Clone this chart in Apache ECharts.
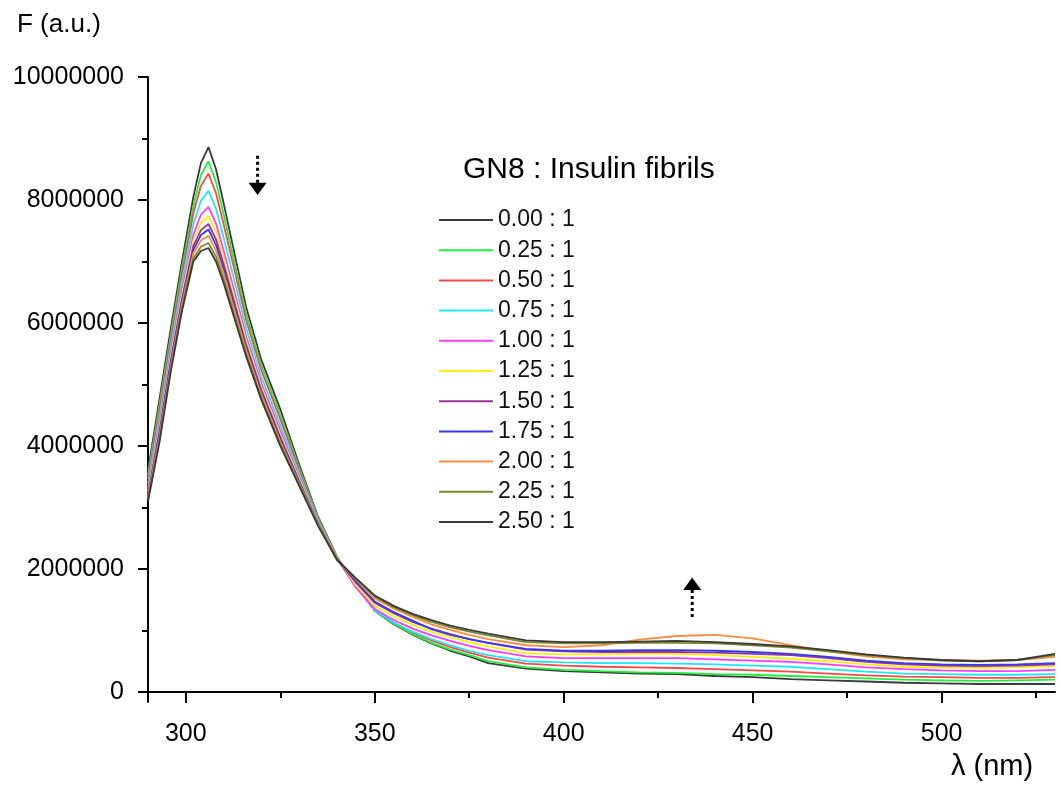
<!DOCTYPE html>
<html>
<head>
<meta charset="utf-8">
<script src="https://cdn.jsdelivr.net/npm/echarts@6/dist/echarts.min.js"></script>
<style>
html,body{margin:0;padding:0;background:#fff;}
#c{width:1061px;height:787px;}
</style>
</head>
<body>
<div id="c"></div>
<script>
// wavelength (nm)
const wavelengths = [290,293,296,299,302,304,306,308,310,313,316,320,325,330,335,340,345,350,355,360,365,370,375,380,390,400,410,420,430,440,450,460,470,480,490,500,510,520,530];
// fluorescence intensity, in units of 1e6 a.u.
const r000 = [3.60,4.75,5.90,7.00,8.05,8.60,8.86,8.50,7.95,7.10,6.25,5.40,4.60,3.70,2.85,2.20,1.72,1.32,1.10,0.93,0.79,0.67,0.58,0.47,0.38,0.34,0.32,0.30,0.29,0.26,0.24,0.21,0.19,0.17,0.15,0.14,0.13,0.13,0.13];
const r025 = [3.53,4.65,5.80,6.89,7.90,8.40,8.63,8.29,7.77,6.95,6.14,5.31,4.52,3.65,2.83,2.19,1.73,1.33,1.11,0.94,0.80,0.69,0.60,0.50,0.40,0.36,0.34,0.32,0.31,0.29,0.28,0.26,0.24,0.22,0.20,0.19,0.18,0.19,0.20];
const r050 = [3.47,4.57,5.72,6.79,7.78,8.23,8.43,8.11,7.61,6.83,6.04,5.23,4.44,3.61,2.81,2.19,1.73,1.34,1.13,0.97,0.84,0.73,0.64,0.56,0.46,0.43,0.41,0.40,0.39,0.37,0.35,0.33,0.30,0.27,0.25,0.24,0.23,0.23,0.24];
const r075 = [3.39,4.45,5.60,6.66,7.60,7.99,8.15,7.86,7.39,6.65,5.91,5.12,4.34,3.55,2.79,2.18,1.72,1.33,1.13,0.98,0.86,0.76,0.67,0.60,0.50,0.48,0.47,0.47,0.46,0.45,0.43,0.41,0.37,0.33,0.30,0.29,0.28,0.28,0.29];
const r100 = [3.31,4.34,5.49,6.53,7.43,7.76,7.89,7.62,7.18,6.48,5.78,5.02,4.25,3.49,2.76,2.17,1.70,1.35,1.17,1.03,0.92,0.83,0.75,0.68,0.58,0.55,0.55,0.55,0.55,0.53,0.51,0.49,0.45,0.40,0.37,0.35,0.34,0.34,0.36];
const r125 = [3.26,4.27,5.42,6.46,7.34,7.63,7.74,7.48,7.07,6.39,5.71,4.96,4.19,3.46,2.75,2.17,1.74,1.40,1.23,1.09,0.98,0.89,0.81,0.74,0.63,0.61,0.61,0.62,0.62,0.60,0.57,0.54,0.50,0.45,0.41,0.40,0.39,0.40,0.42];
const r150 = [3.22,4.22,5.37,6.39,7.25,7.51,7.61,7.36,6.96,6.30,5.64,4.91,4.14,3.43,2.74,2.16,1.78,1.45,1.28,1.14,1.03,0.94,0.86,0.80,0.69,0.66,0.65,0.65,0.65,0.64,0.62,0.60,0.55,0.49,0.45,0.43,0.42,0.43,0.45];
const r175 = [3.19,4.18,5.33,6.34,7.19,7.43,7.52,7.27,6.88,6.24,5.59,4.87,4.11,3.41,2.73,2.16,1.80,1.47,1.30,1.16,1.02,0.93,0.86,0.80,0.70,0.67,0.67,0.68,0.68,0.67,0.65,0.62,0.57,0.51,0.47,0.45,0.44,0.45,0.47];
const r200 = [3.16,4.13,5.28,6.30,7.13,7.34,7.42,7.18,6.81,6.18,5.55,4.83,4.07,3.39,2.72,2.16,1.83,1.52,1.36,1.22,1.10,1.01,0.93,0.86,0.76,0.73,0.76,0.85,0.91,0.93,0.87,0.76,0.66,0.58,0.53,0.52,0.51,0.52,0.57];
const r225 = [3.13,4.08,5.24,6.24,7.05,7.24,7.30,7.08,6.72,6.10,5.49,4.78,4.03,3.37,2.71,2.15,1.84,1.55,1.38,1.25,1.14,1.05,0.98,0.92,0.81,0.79,0.79,0.80,0.80,0.79,0.76,0.72,0.66,0.60,0.55,0.51,0.50,0.52,0.60];
const r250 = [3.10,4.05,5.20,6.20,7.00,7.17,7.22,7.00,6.65,6.05,5.45,4.75,4.00,3.35,2.70,2.15,1.85,1.57,1.40,1.27,1.17,1.08,1.01,0.95,0.84,0.81,0.81,0.82,0.83,0.81,0.78,0.74,0.68,0.61,0.56,0.52,0.50,0.52,0.62];

const seriesNames = ['0.00 : 1','0.25 : 1','0.50 : 1','0.75 : 1','1.00 : 1','1.25 : 1','1.50 : 1','1.75 : 1','2.00 : 1','2.25 : 1','2.50 : 1'];
const seriesValues = [r000,r025,r050,r075,r100,r125,r150,r175,r200,r225,r250];
const seriesColors = ['#3a3a3a','#1ef03c','#ff4646','#1ee6ff','#ff3cff','#ffee10','#993399','#3838f0','#ff8a40','#7d8a2c','#3a3a3a'];

const xMajorTicks = [300,350,400,450,500];
const xMinorTicks = [325,375,425,475,525];
const yMajorTicks = [0,2000000,4000000,6000000,8000000,10000000];
const yMinorTicks = [1000000,3000000,5000000,7000000,9000000];

const legendTitle = 'GN8 : Insulin fibrils';
const yTitle = 'F (a.u.)';
const xTitle = 'λ (nm)';

const FONT = '"Liberation Sans", Arial, Helvetica, sans-serif';
const chart = echarts.init(document.getElementById('c'), null, {renderer:'canvas'});

const series = seriesNames.map((n,i)=>({
  name:n, type:'line', xAxisIndex:0, yAxisIndex:0,
  data: wavelengths.map((w,k)=>[w, seriesValues[i][k]*1e6]),
  showSymbol:false, symbol:'none', smooth:false,
  lineStyle:{color:seriesColors[i], width:1.8},
  itemStyle:{color:seriesColors[i]},
  emphasis:{disabled:true}, animation:false, z: 2
}));

const axisBase = {
  type:'value', splitLine:{show:false}
};

chart.setOption({
  animation:false,
  backgroundColor:'#fff',
  grid:{left:148, right:6, top:77, bottom:85, containLabel:false},
  xAxis:[
    Object.assign({}, axisBase, {
      min:290, max:530, position:'bottom',
      axisLine:{show:true, lineStyle:{color:'#000', width:2}},
      axisTick:{show:true, inside:false, length:11, lineStyle:{color:'#000', width:2}, customValues:xMajorTicks},
      axisLabel:{show:true, margin:20, color:'#000', fontSize:25, fontFamily:FONT, customValues:xMajorTicks}
    }),
    Object.assign({}, axisBase, {
      min:290, max:530, position:'bottom',
      axisLine:{show:false},
      axisTick:{show:true, inside:false, length:6, lineStyle:{color:'#000', width:2}, customValues:xMinorTicks},
      axisLabel:{show:false}
    })
  ],
  yAxis:[
    Object.assign({}, axisBase, {
      min:-163000, max:10000000, position:'left',
      axisLine:{show:true, lineStyle:{color:'#000', width:2}},
      axisTick:{show:true, inside:false, length:10, lineStyle:{color:'#000', width:2}, customValues:yMajorTicks},
      axisLabel:{show:true, margin:24, color:'#000', fontSize:25, fontFamily:FONT, customValues:yMajorTicks,
        formatter:(v)=>String(Math.round(v))}
    }),
    Object.assign({}, axisBase, {
      min:-163000, max:10000000, position:'left',
      axisLine:{show:false},
      axisTick:{show:true, inside:false, length:6, lineStyle:{color:'#000', width:2}, customValues:yMinorTicks},
      axisLabel:{show:false}
    })
  ],
  legend:{
    show:true, orient:'vertical', left:439, top:205, padding:0,
    icon:'rect', itemWidth:54, itemHeight:2, itemGap:0.2,
    textStyle:{color:'#111', fontSize:23, fontFamily:FONT, lineHeight:30},
    data:seriesNames, selectedMode:false
  },
  series: series
});

// annotation texts and arrows
const p = (x,y)=>chart.convertToPixel({xAxisIndex:0,yAxisIndex:0},[x,y]);
const dn0 = p(319, 8.72e6), dn1 = p(319, 8.28e6), dnTip = p(319, 8.08e6);
const up0 = p(434, 1.22e6), up1 = p(434, 1.66e6), upTip = p(434, 1.86e6);
chart.setOption({
  graphic:[
    {type:'text', left:17, top:12, style:{text:yTitle, fill:'#000', font:'26px '+FONT}},
    {type:'text', left:951, top:752, style:{text:xTitle, fill:'#000', font:'29px '+FONT}},
    {type:'text', left:463, top:155, style:{text:legendTitle, fill:'#000', font:'30px '+FONT}},
    {type:'line', shape:{x1:dn0[0], y1:dn0[1], x2:dn1[0], y2:dn1[1]}, style:{stroke:'#000', lineWidth:3, lineDash:[3,3]}},
    {type:'polygon', shape:{points:[[dn1[0]-9,dn1[1]],[dn1[0]+9,dn1[1]],[dnTip[0],dnTip[1]]]}, style:{fill:'#000'}},
    {type:'line', shape:{x1:up0[0], y1:up0[1], x2:up1[0], y2:up1[1]}, style:{stroke:'#000', lineWidth:3, lineDash:[3,3]}},
    {type:'polygon', shape:{points:[[up1[0]-9,up1[1]],[up1[0]+9,up1[1]],[upTip[0],upTip[1]]]}, style:{fill:'#000'}}
  ]
});
</script>
</body>
</html>
